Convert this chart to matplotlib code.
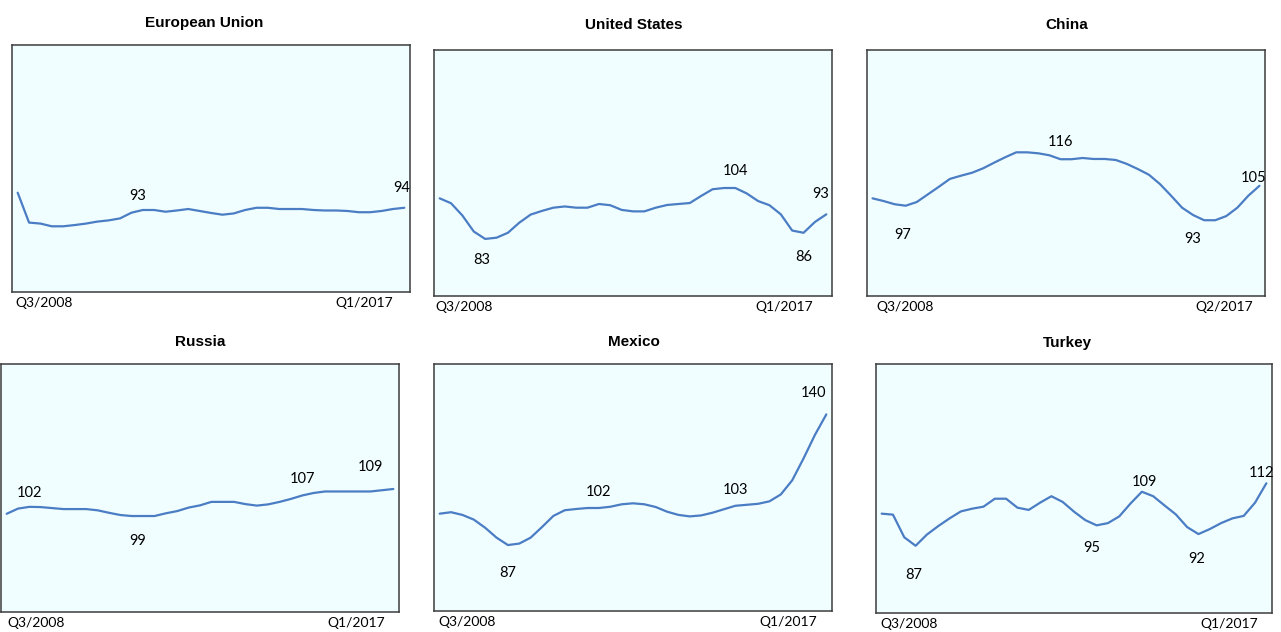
import matplotlib
matplotlib.use("Agg")
import matplotlib.pyplot as plt
import pandas as pd

# Quarterly index values, Q3/2008 onwards
eu = [100.2, 88.1, 87.7, 86.6, 86.6, 87.1, 87.7, 88.5, 89.0, 89.8, 92.1, 93.2,
      93.2, 92.5, 93.0, 93.6, 92.8, 92.0, 91.3, 91.8, 93.2, 94.1, 94.1, 93.6,
      93.6, 93.6, 93.2, 93.0, 93.0, 92.8, 92.3, 92.3, 92.8, 93.6, 94.1]
us = [99.7, 97.7, 92.7, 86.2, 83.2, 83.7, 85.7, 89.8, 93.1, 94.6, 95.9, 96.4,
      95.9, 95.9, 97.4, 96.9, 95.0, 94.4, 94.4, 95.9, 97.0, 97.4, 97.8, 100.7,
      103.4, 103.9, 103.9, 101.7, 98.6, 96.9, 93.2, 86.6, 85.7, 90.1, 93.2]
china = [99.7, 98.6, 97.3, 96.7, 98.2, 101.3, 104.4, 107.6, 108.9, 110.1, 111.9,
         114.2, 116.4, 118.4, 118.4, 118.0, 117.2, 115.6, 115.6, 116.1, 115.7,
         115.7, 115.3, 113.7, 111.6, 109.3, 105.5, 100.8, 95.9, 92.9, 90.8, 90.8,
         92.5, 95.9, 100.8, 104.8]
russia = [99.6, 101.7, 102.4, 102.3, 101.9, 101.5, 101.5, 101.5, 101.0, 100.0,
          99.1, 98.7, 98.7, 98.7, 99.8, 100.7, 102.1, 103.0, 104.4, 104.4, 104.4,
          103.5, 102.9, 103.4, 104.4, 105.6, 107.0, 108.0, 108.6, 108.6, 108.6,
          108.6, 108.6, 109.1, 109.6]
mexico = [99.4, 100.0, 98.9, 97.0, 93.7, 89.7, 86.7, 87.3, 89.7, 94.0, 98.5,
          100.8, 101.3, 101.7, 101.7, 102.2, 103.2, 103.6, 103.2, 102.1, 100.2,
          98.9, 98.3, 98.7, 99.8, 101.2, 102.6, 103.0, 103.4, 104.4, 107.2, 112.9,
          121.8, 131.3, 139.6]
turkey = [99.9, 99.5, 90.4, 87.0, 91.5, 94.9, 98.0, 100.8, 101.9, 102.7, 105.9,
          105.9, 102.3, 101.4, 104.3, 106.9, 104.6, 100.7, 97.3, 95.2, 96.1, 98.8,
          104.0, 108.7, 106.9, 103.2, 99.6, 94.5, 91.7, 93.7, 96.1, 98.0, 99.0,
          104.3, 112.1]

countries = ["European Union", "United States", "China", "Russia", "Mexico", "Turkey"]
series = [eu, us, china, russia, mexico, turkey]

# points that get a value label
labelled = [[11, 34], [4, 26, 32, 34], [3, 17, 29, 35],
            [2, 12, 26, 32], [6, 14, 26, 34], [3, 19, 23, 28, 34]]

# panel boxes in pixels: left, top, right, bottom
boxes = [(12, 45, 410, 292), (434, 50, 832, 296), (867, 50, 1265, 296),
         (1, 364, 399, 612), (434, 364, 832, 611), (876, 364, 1272, 613)]
title_pos = [(204, 23), (634, 25), (1067, 25), (200, 342), (634, 342), (1067, 343)]
# label offsets in pixels (dx, dy) for each labelled point
offsets = [[(-5, 14), (-3, 20)],
           [(-3, -21), (0, 17), (0, -24), (-6, 20)],
           [(-3, -29), (0, 17), (0, -24), (-6, 8)],
           [(0, 14), (-6, -25), (0, 16), (0, 24)],
           [(0, -28), (0, 16), (0, 16), (-13, 21)],
           [(-2, -29), (-5, -23), (3, 10), (-2, -25), (-5, 10)]]
# x-label insets: left label from box left, right label end from box right
xlab_in = [(3, 17), (1, 19), (9, 12), (6, 14), (4, 15), (4, 14)]

W, H = 1281, 632
fig = plt.figure(figsize=(W / 100, H / 100), dpi=100)
fig.patch.set_facecolor("white")

num_font = ["Lato", "DejaVu Sans"]
title_font = ["Liberation Sans", "DejaVu Sans"]

for k, name in enumerate(countries):
    vals = series[k]
    n = len(vals)
    l, t, r, b = boxes[k]
    ax = fig.add_axes([l / W, 1 - b / H, (r - l) / W, (b - t) / H])
    ax.set_facecolor("#F1FEFF")
    ax.plot(range(n), vals, color="#4A7DC4", lw=1.6, solid_capstyle="round")
    ax.set_xlim(-0.5, n - 0.5)
    ax.set_ylim(60, 160)
    ax.set_xticks([])
    ax.set_yticks([])
    for sp in ax.spines.values():
        sp.set_edgecolor("#3C3C3C")
        sp.set_linewidth(1.1)

    for idx, (dx, dy) in zip(labelled[k], offsets[k]):
        ax.annotate(f"{vals[idx]:.0f}", xy=(idx, vals[idx]), xytext=(dx, dy),
                    textcoords="offset pixels", ha="center", va="center",
                    fontsize=10.5, family=num_font, color="black")

    quarters = pd.period_range("2008Q3", periods=n, freq="Q")
    first = f"Q{quarters[0].quarter}/{quarters[0].year}"
    last = f"Q{quarters[-1].quarter}/{quarters[-1].year}"
    li, ri = xlab_in[k]
    fig.text((l + li) / W, 1 - (b + 11) / H, first, ha="left", va="center",
             fontsize=10, family=num_font)
    fig.text((r - ri) / W, 1 - (b + 11) / H, last, ha="right", va="center",
             fontsize=10, family=num_font)

    tx, ty = title_pos[k]
    fig.text(tx / W, 1 - ty / H, name, ha="center", va="center",
             fontsize=11, fontweight="bold", family=title_font)

fig.savefig("out.png", dpi=100)
